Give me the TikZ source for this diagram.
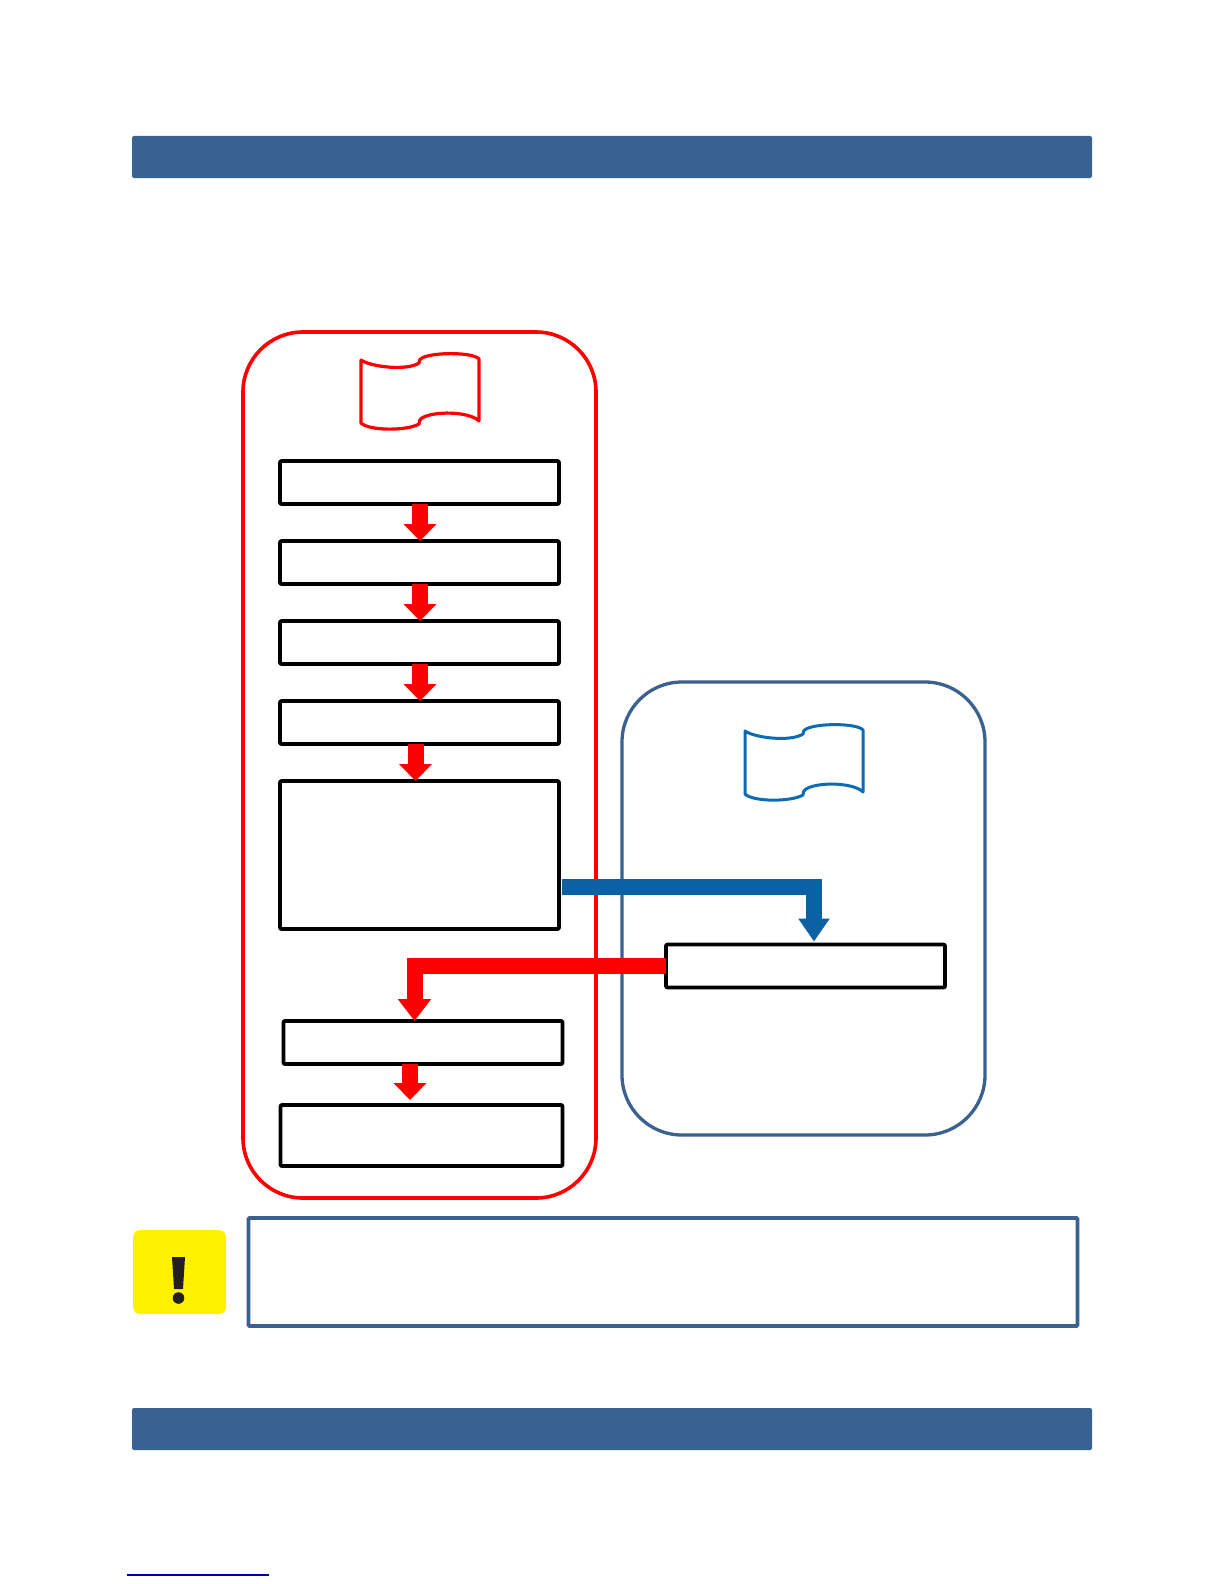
\documentclass[tikz,border=0pt]{standalone}
\usetikzlibrary{arrows.meta}
\definecolor{barblue}{HTML}{386292}
\definecolor{frameblue}{HTML}{3B6190}
\definecolor{flowblue}{HTML}{0A61A4}
\definecolor{docblue}{HTML}{0B6CB5}
\definecolor{warnyellow}{HTML}{FFF200}
\definecolor{warnink}{HTML}{231F20}
\definecolor{rulenavy}{HTML}{0000A0}
\tikzset{
  px/.style={x=1pt,y=-1pt},
  bar/.style={fill=barblue,draw=none,rounded corners=2pt},
  groupred/.style={draw=red,line width=3.6pt,rounded corners=60pt},
  groupblue/.style={draw=frameblue,line width=3.3pt,rounded corners=60pt},
  stepbox/.style={draw=black,fill=white,line width=3.6pt,rounded corners=1pt,inner sep=0pt,outer sep=0pt,line join=round},
  docred/.style={draw=red,line width=3.2pt,line join=round},
  docblueline/.style={draw=docblue,line width=3pt,line join=round},
  redflow/.style={draw=red,line width=16pt,-{Triangle[length=17pt,width=32pt]}},
  redflowbig/.style={draw=red,line width=16pt,-{Triangle[length=22pt,width=32pt]}},
  blueflow/.style={draw=flowblue,line width=16pt,-{Triangle[length=23pt,width=30pt]}},
}
\newcommand{\docpath}{(0,7) .. controls (10,14) and (46,18) .. (58,10)
  .. controls (58,7) and (59,6) .. (61,5)
  .. controls (72,-1) and (112,-1) .. (118,6) -- (118,68)
  .. controls (108,58) and (72,58) .. (61,65)
  .. controls (59,66) and (58,68) .. (58,71)
  .. controls (46,78) and (8,78) .. (0,70) -- cycle}
\begin{document}
\begin{tikzpicture}[px]
\useasboundingbox (0,0) rectangle (1224,1584);
\fill[white] (0,0) rectangle (1224,1584);
% bars
\node[bar,minimum width=960pt,minimum height=42pt,inner sep=0pt] (headerbar) at (612,157) {};
\node[bar,minimum width=960pt,minimum height=42pt,inner sep=0pt] (footerbar) at (612,1429) {};
\draw[rulenavy,line width=1.3pt] (127,1575) -- (269,1575);
% group frames
\node[groupred,minimum width=353pt,minimum height=866pt,inner sep=0pt] (redgroup) at (419.5,765) {};
\node[groupblue,minimum width=363pt,minimum height=453pt,inner sep=0pt] (bluegroup) at (803.5,908.5) {};
% document symbols
\draw[docred,shift={(361,353)}] \docpath;
\draw[docblueline,shift={(745,724)}] \docpath;
% steps
\node[stepbox,minimum width=279pt,minimum height=43pt] (s1) at (419.5,482.5) {};
\node[stepbox,minimum width=279pt,minimum height=43pt] (s2) at (419.5,562.5) {};
\node[stepbox,minimum width=279pt,minimum height=43pt] (s3) at (419.5,642.5) {};
\node[stepbox,minimum width=279pt,minimum height=43pt] (s4) at (419.5,722.5) {};
\node[stepbox,minimum width=279pt,minimum height=148pt] (s5) at (419.5,855) {};
\node[stepbox,minimum width=279pt,minimum height=43pt] (s6) at (423,1042.5) {};
\node[stepbox,minimum width=282pt,minimum height=61pt] (s7) at (421.5,1135.5) {};
\node[stepbox,minimum width=279pt,minimum height=43pt] (r1) at (805.5,966) {};
% connectors
\draw[redflow] ([xshift=0.5pt]s1.south) -- ([xshift=0.5pt]s2.north);
\draw[redflow] ([xshift=0.5pt]s2.south) -- ([xshift=0.5pt]s3.north);
\draw[redflow] ([xshift=0.5pt]s3.south) -- ([xshift=0.5pt]s4.north);
\draw[redflow] ([xshift=-4pt]s4.south) -- ([xshift=-4pt]s5.north);
\draw[redflow] ([xshift=-13pt]s6.south) -- ([xshift=-11.5pt,yshift=5pt]s7.north);
\draw[blueflow] ([xshift=2.5pt,yshift=-32pt]s5.east) -| ([xshift=8.5pt,yshift=3pt]r1.north);
\draw[redflowbig] (r1.west) -| ([xshift=-8.5pt]s6.north);
% warning
\node[draw=none,fill=warnyellow,rounded corners=7pt,minimum width=93pt,minimum height=84pt,inner sep=0pt] (warnicon) at (179.5,1272) {};
\fill[warnink] (172,1257) -- (185,1257) -- (183,1289) -- (174,1289) -- cycle;
\fill[warnink] (178.5,1298) circle (5.8);
\node[draw=frameblue,line width=3.6pt,rounded corners=1pt,minimum width=829pt,minimum height=108pt,inner sep=0pt] (notebox) at (663,1272) {};
\end{tikzpicture}
\end{document}
